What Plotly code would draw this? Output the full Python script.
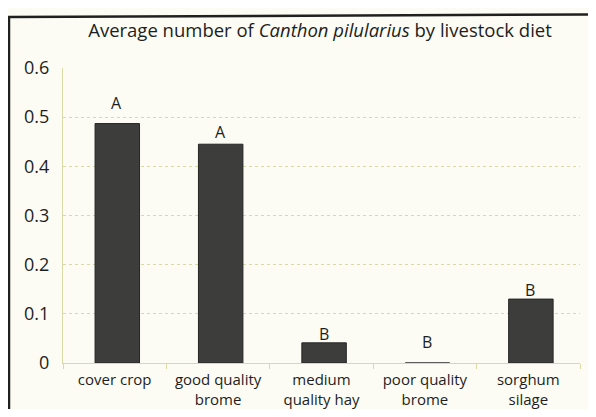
import plotly.graph_objects as go

categories = ["cover crop", "good quality<br>brome", "medium<br>quality hay", "poor quality<br>brome", "sorghum<br>silage"]
values = [0.487, 0.445, 0.041, 0.0, 0.130]
letters = ["A", "A", "B", "B", "B"]
letter_y = [0.528, 0.470, 0.058, 0.042, 0.148]
y_ticks = [0, 0.1, 0.2, 0.3, 0.4, 0.5, 0.6]

# the page body keeps its default 8px margin; size the figure to fit inside it
W, H = 580, 401
L, R, T, B = 55, 8, 60, 46

FONT = "Open Sans"
TEXT = "#1e1e1e"
GRID = "#d9d9a6"
BG = "#fcfcf4"

fig = go.Figure()
fig.add_trace(go.Bar(
    x=categories, y=values, width=0.43, offset=-0.19,
    marker=dict(color="#3d3e3c", line=dict(color="#262626", width=1)),
    hoverinfo="x+y",
))

for c, t, ly in zip(categories, letters, letter_y):
    fig.add_annotation(x=c, y=ly, text=t, showarrow=False, xshift=2,
                       font=dict(family=FONT, size=16, color=TEXT),
                       xanchor="center", yanchor="middle")

pw = W - L - R
ph = H - T - B
def px_to_paper_x(px):
    return (px - L) / pw
def px_to_paper_y(py):
    return (H - B - py) / ph

fig.add_shape(type="line", xref="paper", yref="paper",
              x0=px_to_paper_x(1), x1=px_to_paper_x(1),
              y0=px_to_paper_y(8), y1=px_to_paper_y(405),
              line=dict(color="#202020", width=2.5))
fig.add_shape(type="line", xref="paper", yref="paper",
              x0=px_to_paper_x(0), x1=px_to_paper_x(582),
              y0=px_to_paper_y(9), y1=px_to_paper_y(6.5),
              line=dict(color="#202020", width=2.5))

fig.update_layout(
    width=W, height=H,
    margin=dict(l=L, r=R, t=T, b=B, autoexpand=False),
    paper_bgcolor=BG, plot_bgcolor=BG,
    showlegend=False,
    title=dict(text="Average number of <i>Canthon pilularius</i> by livestock diet",
               x=312 / W, xref="container", xanchor="center",
               y=1 - 23 / H, yref="container", yanchor="middle",
               font=dict(family=FONT, size=18.5, color=TEXT)),
    font=dict(family=FONT, color=TEXT),
)
fig.update_yaxes(
    range=[0, 0.6], tickvals=y_ticks, ticktext=[("0" if v == 0 else f"{v:.1f}") for v in y_ticks],
    showgrid=True, gridcolor=GRID, griddash="dot", gridwidth=1,
    zeroline=False, showline=True, linecolor=GRID, linewidth=1,
    ticks="", ticklabelstandoff=9, automargin=False,
    tickfont=dict(family=FONT, size=18, color=TEXT),
)
fig.update_xaxes(
    showgrid=False, showline=True, linecolor=GRID, linewidth=1,
    ticks="outside", tickson="boundaries", ticklen=5, tickcolor=GRID,
    ticklabelstandoff=3, automargin=False,
    tickfont=dict(family=FONT, size=15, color=TEXT),
)

fig.write_html("out.html", config={"displayModeBar": False})
